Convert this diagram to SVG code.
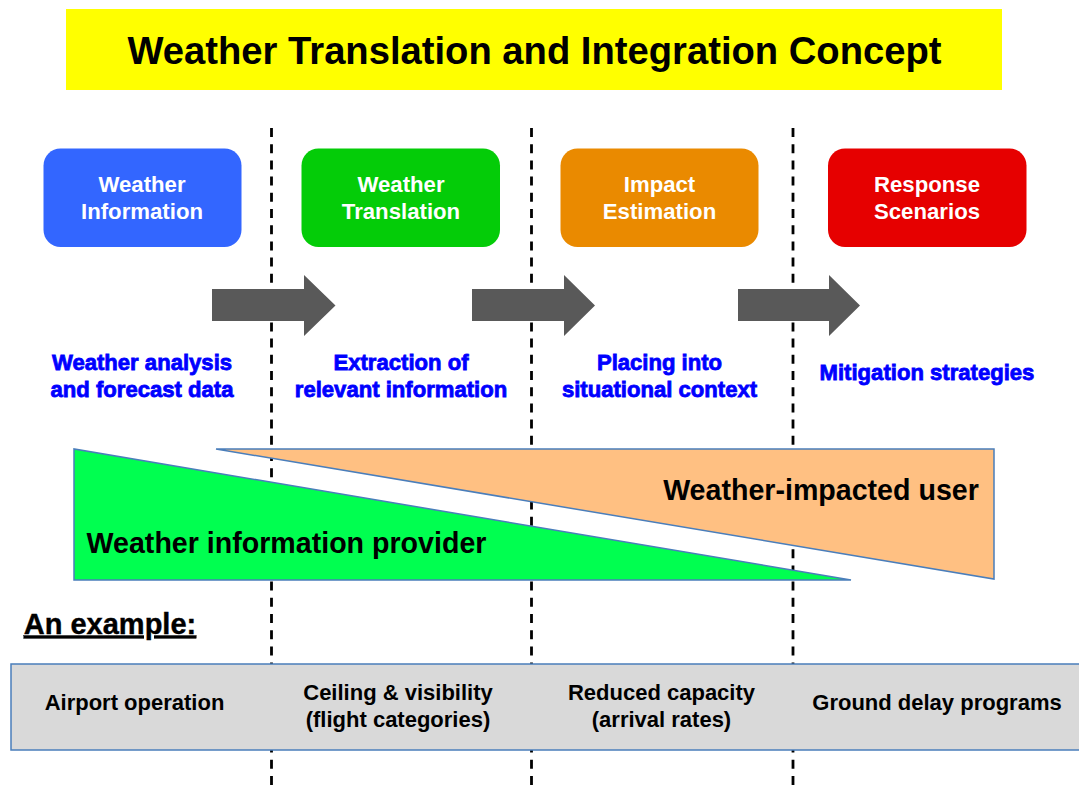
<svg xmlns="http://www.w3.org/2000/svg" width="1079" height="790" viewBox="0 0 1079 790">
<style>
text{font-family:"Liberation Sans",Arial,sans-serif;font-weight:bold;text-anchor:middle}
.n{fill:#fff;font-size:22.200px}
.b{fill:#0000ff;font-size:22.100px;stroke:#0000ff;stroke-width:.8px}
.g{fill:#000;font-size:22px}
.d{stroke:#000;stroke-width:2.800;stroke-dasharray:9 7.200;fill:none}
.a{fill:#595959}
.t{fill:#000;font-size:28.600px}
</style>
<rect width="1079" height="790" fill="#fff"/>
<g id="title"><rect x="66" y="9" width="936" height="81" fill="#ffff00"/><text x="534.500" y="63.500" font-size="38.200" fill="#000">Weather Translation and Integration Concept</text></g>
<g id="connectors">
<path class="d" d="M271.500 128V790M531.500 128V790M793 128V790"/>
<path class="a" d="M212 289H304V275L335.500 305.500L304 336V321H212Z"/>
<path class="a" d="M472 289H564V275L595 305.500L564 336V321H472Z"/>
<path class="a" d="M738 289H829V275L860 305.500L829 336V321H738Z"/>
</g>
<g id="n1"><rect x="43.500" y="148.500" width="198" height="98.500" rx="17" fill="#3366ff"/><text class="n" x="142" y="192">Weather</text><text class="n" x="142" y="219">Information</text></g>
<g id="n2"><rect x="301.500" y="148.500" width="198.500" height="98.500" rx="17" fill="#04cc08"/><text class="n" x="401" y="192">Weather</text><text class="n" x="401" y="219">Translation</text></g>
<g id="n3"><rect x="560.500" y="148.500" width="198" height="98.500" rx="17" fill="#ea8a00"/><text class="n" x="659.500" y="192">Impact</text><text class="n" x="659.500" y="219">Estimation</text></g>
<g id="n4"><rect x="828" y="148.500" width="198.500" height="98.500" rx="17" fill="#e60000"/><text class="n" x="927" y="192">Response</text><text class="n" x="927" y="219">Scenarios</text></g>
<g id="d1"><text class="b" x="142" y="370">Weather analysis</text><text class="b" x="142" y="397">and forecast data</text></g>
<g id="d2"><text class="b" x="401" y="370">Extraction of</text><text class="b" x="401" y="397">relevant information</text></g>
<g id="d3"><text class="b" x="659.500" y="370">Placing into</text><text class="b" x="659.500" y="397">situational context</text></g>
<g id="d4"><text class="b" x="927" y="380">Mitigation strategies</text></g>
<g id="user"><path d="M216 449H994V579Z" fill="#ffc082" stroke="#4a7ebb" stroke-width="1.500"/><text class="t" x="821" y="499.500">Weather-impacted user</text></g>
<g id="provider"><path d="M74 449V580H851Z" fill="#00ff50" stroke="#4a7ebb" stroke-width="1.500"/><text class="t" x="286.500" y="552.500">Weather information provider</text></g>
<g id="example"><text x="110" y="633.500" font-size="29" fill="#000" stroke="#000" stroke-width=".4" text-decoration="underline">An example:</text></g>
<g id="band"><rect x="11" y="664" width="1069" height="86" fill="#d9d9d9" stroke="#4a7ebb" stroke-width="1.500"/>
<text class="g" x="134.500" y="709.500">Airport operation</text>
<text class="g" x="398" y="699.500">Ceiling &amp; visibility</text><text class="g" x="398" y="726.500">(flight categories)</text>
<text class="g" x="661.500" y="699.500">Reduced capacity</text><text class="g" x="661.500" y="726.500">(arrival rates)</text>
<text class="g" x="937" y="709.500">Ground delay programs</text></g>
</svg>
